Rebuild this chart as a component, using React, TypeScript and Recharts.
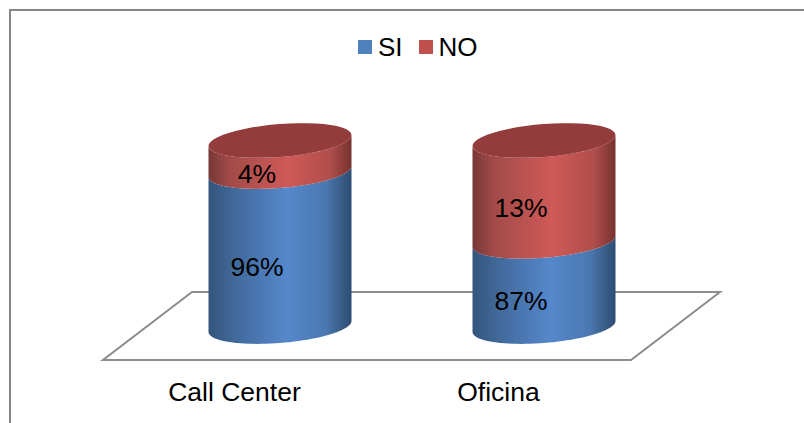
import { Bar, BarChart, LabelList, Legend, XAxis, YAxis } from "recharts"

const categories = ["Call Center", "Oficina"]
const seriesNames = ["SI", "NO"]
const siValues = [96, 87]
const noValues = [4, 13]
// the value axis is hidden and starts well above zero
const axisDomain = [76, 100]

const data = categories.map((name, i) => ({ name, SI: siValues[i], NO: noValues[i] }))

const FONT = "'Liberation Sans', Arial, sans-serif"
const TILT = 5.5
const RY = 16.5

// point on the sheared ellipse of a cylinder slice; y0 is the height of its left edge
function ellipsePoints(cx: number, rx: number, y0: number, from: number, to: number) {
  const pts: string[] = []
  const steps = 48
  for (let i = 0; i <= steps; i++) {
    const t = from + ((to - from) * i) / steps
    const px = cx + rx * Math.cos(t)
    const py = y0 - TILT + RY * Math.sin(t) - TILT * Math.cos(t)
    pts.push(`${px.toFixed(2)},${py.toFixed(2)}`)
  }
  return pts
}

function cylinderShape(gradient: string, capFill?: string) {
  return function CylinderSlice(props: any) {
    const { x, y, width, height } = props
    const cx = x + width / 2
    const rx = width / 2
    const lower = ellipsePoints(cx, rx, y + height, Math.PI, 0)
    const upper = ellipsePoints(cx, rx, y, 0, Math.PI)
    return (
      <g>
        <polygon points={[...lower, ...upper].join(" ")} fill={`url(#${gradient})`} />
        {capFill && (
          <polygon
            points={ellipsePoints(cx, rx, y, 0, Math.PI * 2).join(" ")}
            fill={capFill}
          />
        )}
      </g>
    )
  }
}

function SliceLabel(props: any) {
  const { x, y, width, height, value } = props
  return (
    <text
      x={x + width / 2 - 23}
      y={y + height / 2 + 12}
      textAnchor="middle"
      dominantBaseline="central"
      fontFamily={FONT}
      fontSize={26.5}
      fill="#000"
    >
      {value}%
    </text>
  )
}

function CategoryTick(props: any) {
  const { x, payload } = props
  return (
    <text x={x - 45} y={392} textAnchor="middle" dominantBaseline="central" fontFamily={FONT} fontSize={26.5} fill="#000">
      {payload.value}
    </text>
  )
}

function LegendRow({ payload }: any) {
  return (
    <div style={{ display: "flex", alignItems: "center", height: 34, paddingLeft: 358 }}>
      {(payload ?? []).map((entry: any) => (
        <div key={entry.value} style={{ display: "flex", alignItems: "center", marginRight: 16 }}>
          <span style={{ width: 14, height: 14, background: entry.color, marginRight: 6 }} />
          <span style={{ color: "#000", fontFamily: FONT, fontSize: 26 }}>{entry.value}</span>
        </div>
      ))}
    </div>
  )
}

export default function App() {
  return (
    <div style={{ position: "absolute", left: 0, top: 0, width: 804, height: 423, background: "#fff", overflow: "hidden" }}>
      {/* the bars overhang the plot rectangle, so the axis clip has to go */}
      <style>{`.recharts-wrapper [clip-path] { clip-path: none; }`}</style>
      <div
        style={{
          position: "absolute",
          left: 9,
          top: 9,
          width: 800,
          height: 420,
          borderLeft: "2px solid #868686",
          borderTop: "2px solid #868686",
        }}
      />
      <BarChart
        width={804}
        height={423}
        data={data}
        barSize={143}
        margin={{ top: 146, right: 128.5, bottom: 31, left: 147.5 }}
        style={{ position: "absolute", left: 0, top: 0 }}
      >
        <defs>
          <linearGradient id="siSide" x1="0" y1="0" x2="1" y2="0">
            <stop offset="0" stopColor="#34557c" />
            <stop offset="0.18" stopColor="#41699a" />
            <stop offset="0.55" stopColor="#5588cc" />
            <stop offset="0.82" stopColor="#4a78b0" />
            <stop offset="1" stopColor="#2e4c70" />
          </linearGradient>
          <linearGradient id="noSide" x1="0" y1="0" x2="1" y2="0">
            <stop offset="0" stopColor="#763837" />
            <stop offset="0.15" stopColor="#a24b49" />
            <stop offset="0.55" stopColor="#cf5a58" />
            <stop offset="0.85" stopColor="#b04e4c" />
            <stop offset="1" stopColor="#763230" />
          </linearGradient>
        </defs>
        {/* floor of the 3D plot area */}
        <polygon points="103,360 631,360 720,292 192,292" fill="#fff" stroke="#8c8c8c" strokeWidth={2} />
        <XAxis dataKey="name" height={60} axisLine={false} tickLine={false} tick={<CategoryTick />} interval={0} />
        <YAxis hide domain={axisDomain} allowDataOverflow />
        <Legend
          verticalAlign="middle"
          align="center"
          itemSorter={(item: any) => seriesNames.indexOf(item.value)}
          content={<LegendRow />}
          wrapperStyle={{ top: 30, left: 0, width: 804 }}
        />
        <Bar
          dataKey="SI"
          stackId="a"
          fill="#4f81bd"
          isAnimationActive={false}
          shape={cylinderShape("siSide")}
        >
          <LabelList dataKey="SI" content={<SliceLabel />} />
        </Bar>
        <Bar
          dataKey="NO"
          stackId="a"
          fill="#c0504d"
          isAnimationActive={false}
          shape={cylinderShape("noSide", "#933c3b")}
        >
          <LabelList dataKey="NO" content={<SliceLabel />} />
        </Bar>
      </BarChart>
    </div>
  )
}
